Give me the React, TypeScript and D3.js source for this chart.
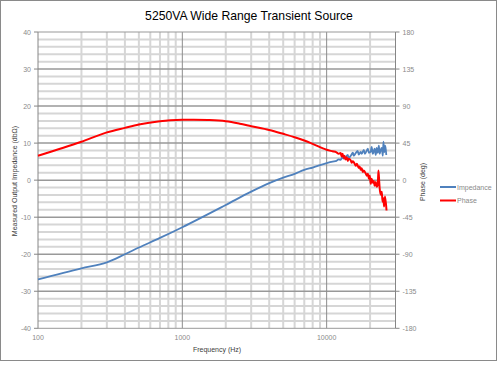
import React from "react";
import * as d3 from "d3";

const impFreq = [100, 200, 300, 400, 500, 700, 1000, 2000, 3000, 4000, 5000, 6000, 7000, 8000, 10000, 11000,
  11700, 12100, 12500, 12900, 13100, 13500, 14000, 14200, 14700, 15200, 15400, 15900, 16400, 16700, 17200, 17500,
  18100, 18400, 18700, 19300, 19600, 20200, 20500, 20900, 21500, 21900, 22200, 22600, 23000, 23300, 23700, 24100,
  24500, 24750, 25100, 25500, 25900];
const impDb = [-26.8, -23.8, -22.2, -20.0, -18.2, -15.6, -12.7, -6.7, -3.1, -0.8, 0.7, 1.7, 2.8, 3.4, 4.6, 5.0,
  5.2, 5.6, 5.5, 6.3, 5.8, 6.2, 6.8, 6.0, 6.6, 7.4, 6.6, 7.3, 7.9, 6.9, 7.6, 7.1,
  8.2, 7.1, 7.5, 8.5, 7.4, 7.7, 9.0, 7.1, 8.5, 6.8, 8.7, 7.4, 9.3, 7.1, 8.2, 8.7,
  6.6, 10.4, 7.6, 9.3, 6.8];

const phaseFreq = [100, 200, 300, 400, 500, 700, 1000, 1200, 1500, 2000, 2500, 3000, 4000, 5000, 6000, 7000, 8000, 10000, 11000,
  11700, 12100, 12500, 12700, 12900, 13100, 13300, 13500, 13800, 14000, 14200, 14700, 14900, 15200, 15600, 15900,
  16200, 16700, 16950, 17200, 17500, 17800, 18100, 18700, 19000, 19300, 19600, 19900, 20200, 20500, 20900, 21200,
  21500, 21900, 22200, 22600, 22850, 23150, 23300, 23700, 24100, 24400, 24750, 25000, 25400, 26000];
const phaseDeg = [29.6, 46.6, 58, 63.5, 67.5, 71.5, 73.3, 73.5, 73.1, 71.6, 68.6, 65.6, 61, 56.3, 52.2, 48.2, 44.1, 36.9, 35.0,
  33.8, 32.0, 32.9, 28.8, 32.0, 27.0, 29.7, 25.2, 27.9, 23.4, 26.1, 23.9, 21.2, 23.0, 20.3, 17.6,
  19.8, 14.9, 16.7, 12.6, 14.4, 9.9, 11.7, 7.7, 5.4, 7.7, 1.8, 5.4, -4.5, 1.8, -3.2, -0.9,
  -6.8, -2.3, -8.1, -5.9, 11.7, -2.3, -9.5, -17.6, -14.0, -26.1, -22.1, -32.0, -19.8, -36.9];

const xTicks = [100, 1000, 10000];
const leftTicks = [-40, -30, -20, -10, 0, 10, 20, 30, 40];
const rightTicks = [-180, -135, -90, -45, 0, 45, 90, 135, 180];
const seriesNames = ["Impedance", "Phase"];
const seriesColors = ["#4F81BD", "#FF0000"];

const W = 499, H = 365;
const L = 38, R = 395.5, T = 32, B = 328.3;
const FONT = "'Liberation Sans', Arial, sans-serif";

export default function App() {
  const x = d3.scaleLog().domain([100, 30000]).range([L, R]);
  const yL = d3.scaleLinear().domain([-40, 40]).range([B, T]);
  const yR = d3.scaleLinear().domain([-180, 180]).range([B, T]);

  const minorV: number[] = [];
  for (let d = 100; d < 30000; d *= 10) {
    for (let k = 2; k <= 9; k++) if (d * k < 30000) minorV.push(d * k);
  }
  const minorH = d3.range(-38, 40, 2).filter((v) => v % 10 !== 0);
  const majorH = d3.range(-30, 40, 10);

  const lineImp = d3.line<number>().x((_, i) => x(impFreq[i])).y((d) => yL(d)).curve(d3.curveMonotoneX);
  const linePh = d3.line<number>().x((_, i) => x(phaseFreq[i])).y((d) => yR(d)).curve(d3.curveMonotoneX);

  return (
    <div style={{ position: "fixed", left: 0, top: 0 }}>
      <svg width={W} height={H} style={{ display: "block", background: "#fff" }}>
        <rect x={0.5} y={0.5} width={496} height={360} fill="#fff" stroke="#8a8a8a" />
        <text x={249} y={20} textAnchor="middle" fontFamily={FONT} fontSize={12.2} fill="#000">
          5250VA Wide Range Transient Source
        </text>
        {minorH.map((v) => (
          <line key={"mh" + v} x1={L} x2={R} y1={yL(v)} y2={yL(v)} stroke="#d6d6d6" strokeWidth={2} />
        ))}
        {minorV.map((f) => (
          <line key={"mv" + f} x1={x(f)} x2={x(f)} y1={T} y2={B} stroke="#d6d6d6" strokeWidth={2} />
        ))}
        {majorH.map((v) => (
          <line key={"Mh" + v} x1={L} x2={R} y1={yL(v)} y2={yL(v)} stroke="#999" strokeWidth={1.5} />
        ))}
        {[1000, 10000].map((f) => (
          <line key={"Mv" + f} x1={x(f)} x2={x(f)} y1={T} y2={B} stroke="#8c8c8c" strokeWidth={1} />
        ))}
        <line x1={L} x2={R} y1={T} y2={T} stroke="#999" />
        <line x1={L} x2={R} y1={B} y2={B} stroke="#999" />
        <line x1={L} x2={L} y1={T} y2={B} stroke="#868686" />
        <line x1={R} x2={R} y1={T} y2={B} stroke="#868686" />
        {leftTicks.map((v) => (
          <g key={"lt" + v}>
            <line x1={L - 4} x2={L} y1={yL(v)} y2={yL(v)} stroke="#868686" />
            <text x={L - 7} y={yL(v) + 2.5} textAnchor="end" fontFamily={FONT} fontSize={7} fill="#8a8a8a">{v}</text>
          </g>
        ))}
        {rightTicks.map((v) => (
          <g key={"rt" + v}>
            <line x1={R} x2={R + 4} y1={yR(v)} y2={yR(v)} stroke="#868686" />
            <text x={R + 7} y={yR(v) + 2.5} textAnchor="start" fontFamily={FONT} fontSize={7} fill="#8a8a8a">{v}</text>
          </g>
        ))}
        {xTicks.map((f) => (
          <text key={"xt" + f} x={x(f)} y={340} textAnchor="middle" fontFamily={FONT} fontSize={7} fill="#8a8a8a">{f}</text>
        ))}
        <text x={217} y={352} textAnchor="middle" fontFamily={FONT} fontSize={7} fill="#404040">Frequency (Hz)</text>
        <text transform={`translate(17,181) rotate(-90)`} textAnchor="middle" fontFamily={FONT} fontSize={7} fill="#404040">
          Measured Output Impedance (dbΩ)
        </text>
        <text transform={`translate(425,182) rotate(-90)`} textAnchor="middle" fontFamily={FONT} fontSize={7} fill="#404040">
          Phase (deg)
        </text>
        <path d={lineImp(impDb) || ""} fill="none" stroke={seriesColors[0]} strokeWidth={1.8} strokeLinejoin="round" />
        <path d={linePh(phaseDeg) || ""} fill="none" stroke={seriesColors[1]} strokeWidth={2} strokeLinejoin="round" />
        {seriesNames.map((n, i) => (
          <g key={n}>
            <line x1={440} x2={456} y1={187 + i * 13.5} y2={187 + i * 13.5} stroke={seriesColors[i]} strokeWidth={2} />
            <text x={457} y={189.5 + i * 13.5} fontFamily={FONT} fontSize={7} fill="#8a8a8a">{n}</text>
          </g>
        ))}
      </svg>
    </div>
  );
}
